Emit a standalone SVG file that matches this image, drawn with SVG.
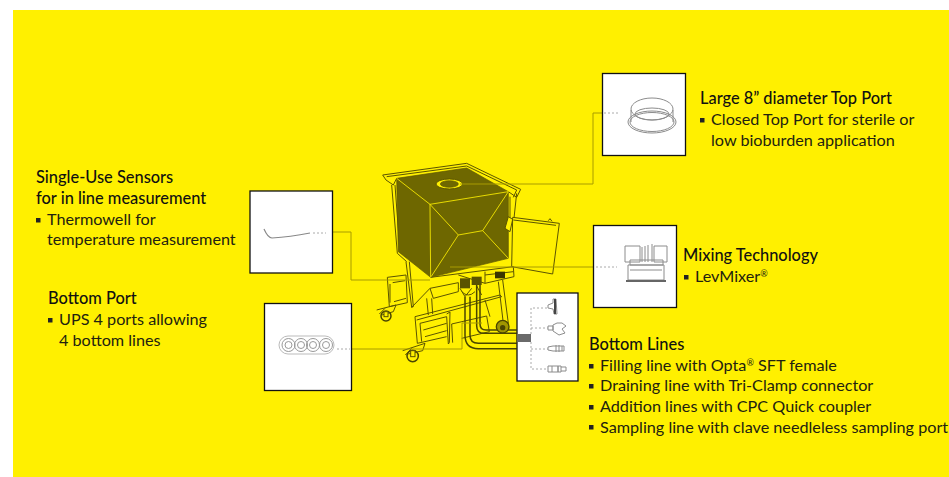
<svg xmlns="http://www.w3.org/2000/svg" width="949" height="477" viewBox="0 0 949 477">
<style>
.t{font-family:"Lato","Liberation Sans",sans-serif;font-size:16.2px;fill:#222210}
.h{font-weight:500;font-family:"Lato","Liberation Sans",sans-serif;font-size:16.4px;fill:#111}
.b{fill:#fff;stroke:#111;stroke-width:1.3}
.c{fill:none;stroke:#a89c00;stroke-width:1}
.d{fill:none;stroke:#aaa;stroke-width:1;stroke-dasharray:2 2}
.g{fill:none;stroke:#8c8c8c;stroke-width:1}
.k{fill:none;stroke:#5a5300;stroke-width:3}
.f{fill:#fff000;stroke:#5a5300;stroke-width:3;stroke-linejoin:round}
.y{fill:none;stroke:#fff000;stroke-width:2.5}
.p{fill:none;stroke:#4a4500;stroke-width:4.500}
.s{fill:#222}
</style>
<rect width="949" height="477" fill="#fff"/>
<rect x="13" y="10" width="936" height="467" fill="#fff000"/>
<g id="machine" transform="translate(370 160) scale(.33333)">
<path class="k" d="M38 45L290 10L452 88L440 112L415 95M38 45L48 60L70 75L80 55M50 50L290 18L440 90L430 112"/>
<path class="k" d="M65 75L82 280L110 305M75 75L90 275"/>
<path class="k" d="M440 100L432 175M420 110V175"/>
<path d="M80 55L290 24L415 95V295L182 352L85 275Z" fill="#6e6700" stroke="#5a5300" stroke-width="2"/>
<path class="y" d="M80 55L180 133L415 95M180 133L182 352M180 133L265 225L182 352M265 225L338 212L415 295M338 212L415 95"/>
<ellipse cx="238" cy="72" rx="40" ry="15" fill="#fff000" stroke="#5a5300" stroke-width="3"/>
<ellipse cx="238" cy="72" rx="27" ry="10" fill="#6e6700" stroke="#5a5300" stroke-width="2"/>
<path class="f" d="M415 170L405 205L420 215L428 178Z"/>
<path class="f" d="M428 172L568 190L548 342L425 320Z"/>
<path class="k" d="M430 180L558 196M535 182L540 176L546 184"/>
<path class="k" d="M52 352L108 345L112 428L58 440ZM68 368L105 362M72 425L108 415M60 372V428"/>
<path class="k" d="M108 305L125 442L130 440L118 305M125 442L180 385"/>
<path class="k" d="M182 352L430 320L432 350L345 370L265 345M345 335V370M430 335L345 345M180 385L265 368V395L190 415L180 385"/>
<rect x="375" y="335" width="30" height="20" fill="#3a3600"/>
<path class="k" d="M170 415L175 465M185 415L188 462"/>
<path class="k" d="M385 365L400 490M398 360L415 490"/>
<path class="k" d="M135 470L390 405L395 410L140 480M135 470L142 550L230 530M150 490L230 470M150 490L155 545M160 510L230 490M165 530L230 512"/>
<path class="k" d="M230 462L240 456L238 548L235 552L230 470M245 492L350 468L358 515L275 535M245 492L248 548M345 420L360 470"/>
<rect x="270" y="355" width="30" height="30" fill="#5a5300"/>
<rect x="305" y="350" width="30" height="25" fill="#5a5300"/>
<path class="k" d="M275 395Q295 415 315 395M270 385L285 410L305 385M320 378L335 405"/>
<path class="p" d="M285 410V525Q285 566 325 566H440"/>
<path class="p" d="M300 410V525Q300 550 325 550H440"/>
<path class="p" d="M320 375V497Q320 520 342 520H440"/>
<path class="p" d="M330 375V492Q330 510 348 510H440"/>
<circle cx="398" cy="500" r="19" fill="#a09600" stroke="#4a4500" stroke-width="4"/>
<circle cx="398" cy="503" r="8" fill="#4a4500"/>
<circle cx="48" cy="468" r="15" fill="#fff000" stroke="#4a4500" stroke-width="4.500"/>
<path class="k" d="M20 450L78 435L70 455L36 465M28 462L45 445"/>
<rect x="42" y="455" width="12" height="15" fill="#fff000" stroke="#5a5300" stroke-width="3"/>
<circle cx="128" cy="588" r="17" fill="#fff000" stroke="#4a4500" stroke-width="4.500"/>
<path class="k" d="M98 572L165 550L158 572L115 582M106 585L125 565"/>
<rect x="122" y="572" width="13" height="18" fill="#fff000" stroke="#5a5300" stroke-width="3"/>
</g>
<g id="connectors">
<path class="c" d="M460 184H593V113H603"/>
<path class="c" d="M450 267H593"/>
<path class="c" d="M333 232H351V280H430"/>
<path class="c" d="M352 349H462V323H482"/>
</g>
<g id="node-top-port">
<rect class="b" x="602.500" y="73.500" width="83" height="82"/>
<path class="d" d="M604 113H619"/>
<ellipse class="g" cx="652" cy="122" rx="24" ry="11"/>
<ellipse class="g" cx="652" cy="122" rx="22" ry="9.500"/>
<ellipse class="g" cx="652" cy="109" rx="21" ry="11" stroke-width="1.400"/>
<ellipse class="g" cx="652" cy="114" rx="17" ry="6" stroke-width="1.400"/>
<path class="g" d="M631 110V122M673 110V122"/>
<text class="h" x="700" y="104">Large 8” diameter Top Port</text>
<rect class="s" x="700" y="118" width="4.500" height="4.500"/>
<text class="t" x="711" y="125">Closed Top Port for sterile or</text>
<text class="t" x="711" y="146">low bioburden application</text>
</g>
<g id="node-mixing">
<rect class="b" x="593.500" y="225.500" width="83" height="82"/>
<path class="d" d="M596 267H617"/>
<path class="g" d="M625 246H640V262H625ZM654 246H667V262H654ZM642 262V247M645 262V246M648 262V245M652 262V244"/>
<path class="g" d="M630 260H663V265H630ZM628 265H664V280H628ZM630 270H662"/>
<path d="M626 281H666" stroke="#666" stroke-width="2"/>
<text class="h" x="683" y="261">Mixing Technology</text>
<rect class="s" x="684" y="275" width="4.500" height="4.500"/>
<text class="t" x="695" y="282">LevMixer<tspan font-size="9" dy="-5">®</tspan></text>
</g>
<g id="node-sensors">
<rect class="b" x="250" y="191" width="82.500" height="82"/>
<path d="M264 229Q268 238 272 238Q290 237 310 233" fill="none" stroke="#888" stroke-width="1.200"/>
<path class="d" d="M313 233H326"/>
<text class="h" x="36" y="183">Single-Use Sensors</text>
<text class="h" x="36" y="204">for in line measurement</text>
<rect class="s" x="36" y="218" width="4.500" height="4.500"/>
<text class="t" x="47" y="225">Thermowell for</text>
<text class="t" x="47" y="245">temperature measurement</text>
</g>
<g id="node-bottom-port">
<rect class="b" x="264.500" y="303.500" width="87" height="87"/>
<rect x="279" y="336" width="55" height="18" rx="9" fill="none" stroke="#bbb"/>
<g fill="none" stroke="#999"><circle cx="288.500" cy="345" r="6.500"/><circle cx="288.500" cy="345" r="3.500"/><circle cx="301" cy="345" r="6.500"/><circle cx="301" cy="345" r="3.500"/><circle cx="313" cy="345" r="6.500"/><circle cx="313" cy="345" r="3.500"/><circle cx="326" cy="345" r="6.500"/><circle cx="326" cy="345" r="3.500"/></g>
<path class="d" d="M337 349H350"/>
<text class="h" x="48" y="304">Bottom Port</text>
<rect class="s" x="48" y="318" width="4.500" height="4.500"/>
<text class="t" x="59" y="325">UPS 4 ports allowing</text>
<text class="t" x="59" y="346">4 bottom lines</text>
</g>
<g id="node-bottom-lines">
<rect class="b" x="517" y="293" width="61" height="88"/>
<rect x="517" y="334" width="14" height="8" fill="#6a6a6a"/>
<path class="d" d="M531 334V308H548M531 328H548M531 342V369H548M531 349H548"/>
<path class="g" d="M548 305L553 303V299H556L557 314H554L553 309L548 308Z"/>
<path d="M555 299V314" stroke="#444" stroke-width="2"/>
<path class="g" d="M548 326H553V330H548ZM553 325L557 323H562L566 326L562 329L565 333L559 335L553 331Z"/>
<path class="g" d="M548 347L553 346H562V351H553L548 350ZM556 345V352M559 345V352M562 346H564V351H562"/>
<path class="g" d="M548 366H558V372H548ZM552 366V372M558 366H561V372H558ZM561 367H566V371H561"/>
<text class="h" x="589" y="350">Bottom Lines</text>
<rect class="s" x="589" y="364" width="4.500" height="4.500"/>
<text class="t" x="600" y="371">Filling line with Opta<tspan font-size="9" dy="-5">®</tspan><tspan dy="5"> SFT female</tspan></text>
<rect class="s" x="589" y="384" width="4.500" height="4.500"/>
<text class="t" x="600" y="391">Draining line with Tri-Clamp connector</text>
<rect class="s" x="589" y="405" width="4.500" height="4.500"/>
<text class="t" x="600" y="412">Addition lines with CPC Quick coupler</text>
<rect class="s" x="589" y="425" width="4.500" height="4.500"/>
<text class="t" x="600" y="433">Sampling line with clave needleless sampling port</text>
</g>
</svg>
